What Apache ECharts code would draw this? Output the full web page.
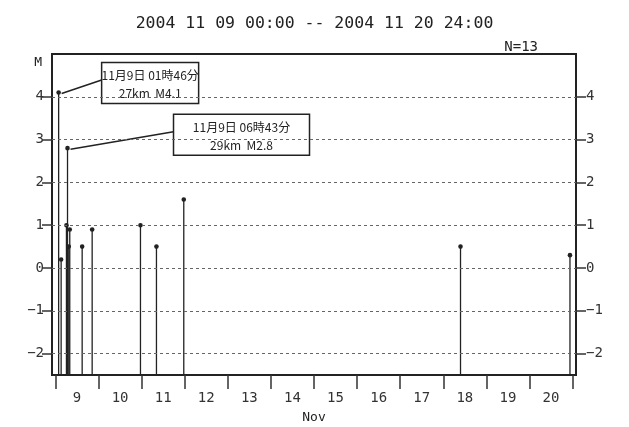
<!DOCTYPE html>
<html><head><meta charset="utf-8">
<script src="https://cdn.jsdelivr.net/npm/echarts@6/dist/echarts.min.js"></script>
<style>html,body{margin:0;padding:0;background:#fff}#c{width:629px;height:427px}</style>
</head><body><div id="c"></div>
<script>
const titleText = '2004 11 09 00:00 -- 2004 11 20 24:00';
const countText = 'N=13';
const dayLabels = ['9','10','11','12','13','14','15','16','17','18','19','20'];
const dayTicks = [0,1,2,3,4,5,6,7,8,9,10,11,12];
const magTicks = [-2,-1,0,1,2,3,4];
// event time in days since 2004-11-09 00:00, magnitude
const eqDays = [0.074, 0.132, 0.255, 0.280, 0.309, 0.332, 0.62, 0.852, 1.973, 2.344, 2.978, 9.40, 11.94];
const eqMags = [4.1, 0.2, 1.0, 2.8, 0.5, 0.9, 0.5, 0.9, 1.0, 0.5, 1.6, 0.5, 0.3];
const notes = [
  {idx:0, lines:['11月9日 01時46分','27km  M4.1']},
  {idx:3, lines:['11月9日 06時43分','29km  M2.8']}
];
const yMin = -2.5, yMax = 5;

const FONT = 'DejaVu Sans Mono';
const chart = echarts.init(document.getElementById('c'));
const data = eqDays.map((d,i)=>[d, eqMags[i]]);
const lblCenters = dayLabels.map((_,i)=>i+0.5);
const minus = (v)=>v<0?'\u2212'+(-v):String(v);

const axisLine = {show:true, onZero:false, lineStyle:{color:'#222', width:2}};
chart.setOption({
  animation:false,
  title:{text:titleText, left:'center', top:10, textStyle:{fontFamily:FONT, fontSize:16.5, fontWeight:'normal', color:'#222'}},
  grid:{left:52, right:53, top:54, bottom:52, outerBoundsMode:'none', containLabel:false, show:true, borderColor:'#222', borderWidth:2, backgroundColor:'transparent'},
  xAxis:{type:'value', min:-0.08, max:12.08, position:'bottom',
    name:'Nov', nameLocation:'middle', nameGap:36, nameTextStyle:{fontFamily:FONT, fontSize:13, color:'#222'},
    axisLine:axisLine,
    axisTick:{show:true, length:14, customValues:dayTicks, lineStyle:{color:'#333', width:1.5}},
    axisLabel:{customValues:lblCenters, formatter:(v)=>dayLabels[Math.round(v-0.5)], fontFamily:FONT, fontSize:14, color:'#333', margin:16},
    splitLine:{show:false}},
  yAxis:[
    {type:'value', min:yMin, max:yMax, position:'left',
      name:'M', nameLocation:'end', nameGap:-2, nameTextStyle:{fontFamily:FONT, fontSize:13, color:'#222', align:'right', padding:[0,10,0,0], verticalAlign:'top'},
      axisLine:axisLine,
      axisTick:{show:true, length:10, customValues:magTicks, lineStyle:{color:'#333', width:1.5}},
      axisLabel:{customValues:magTicks, fontFamily:FONT, fontSize:14, color:'#333', margin:8, formatter:minus},
      splitLine:{show:false}},
    {type:'value', min:yMin, max:yMax, position:'right',
      axisLine:axisLine,
      axisTick:{show:true, length:10, customValues:magTicks, lineStyle:{color:'#333', width:1.5}},
      axisLabel:{customValues:magTicks, fontFamily:FONT, fontSize:14, color:'#333', margin:10, formatter:minus},
      splitLine:{show:false}}
  ],
  series:[
    {type:'line', data:[], markLine:{silent:true, symbol:'none', label:{show:false},
      lineStyle:{color:'#666', type:[3,3], width:1},
      data:magTicks.map(v=>({yAxis:v}))}},
    {type:'custom', data:data, clip:false,
      renderItem:(params, api)=>{
        const x = api.value(0), y = api.value(1);
        const top = api.coord([x, y]);
        const bot = api.coord([x, yMin]);
        return {type:'group', children:[
          {type:'line', shape:{x1:top[0], y1:top[1], x2:bot[0], y2:bot[1]}, style:{stroke:'#222', lineWidth:1.3}},
          {type:'circle', shape:{cx:top[0], cy:top[1], r:2.3}, style:{fill:'#222'}}
        ]};
      }}
  ]
});

// annotations anchored to data points
const boxW = [97, 136];
const boxOff = [[43,-30],[106,-34]];
const g = [];
notes.forEach((n,k)=>{
  const p = chart.convertToPixel({xAxisIndex:0, yAxisIndex:0}, [eqDays[n.idx], eqMags[n.idx]]);
  const bx = p[0] + boxOff[k][0], by = p[1] + boxOff[k][1];
  const w = boxW[k], h = 41;
  g.push({type:'line', shape:{x1:p[0]+3, y1:p[1]+1, x2:bx, y2:by+h/2-3}, style:{stroke:'#222', lineWidth:1.5}});
  g.push({type:'rect', shape:{x:bx, y:by, width:w, height:h}, style:{fill:'#fff', stroke:'#222', lineWidth:1.5}});
  g.push({type:'text', x:bx+w/2, y:by+4, style:{text:n.lines.join('\n'), align:'center', verticalAlign:'top', font:'12px "Noto Sans CJK JP"', lineHeight:18, fill:'#222'}});
});
g.push({type:'text', right:91, top:40, style:{text:countText, font:'14px '+FONT, fill:'#222'}});
chart.setOption({graphic:g});
</script></body></html>
